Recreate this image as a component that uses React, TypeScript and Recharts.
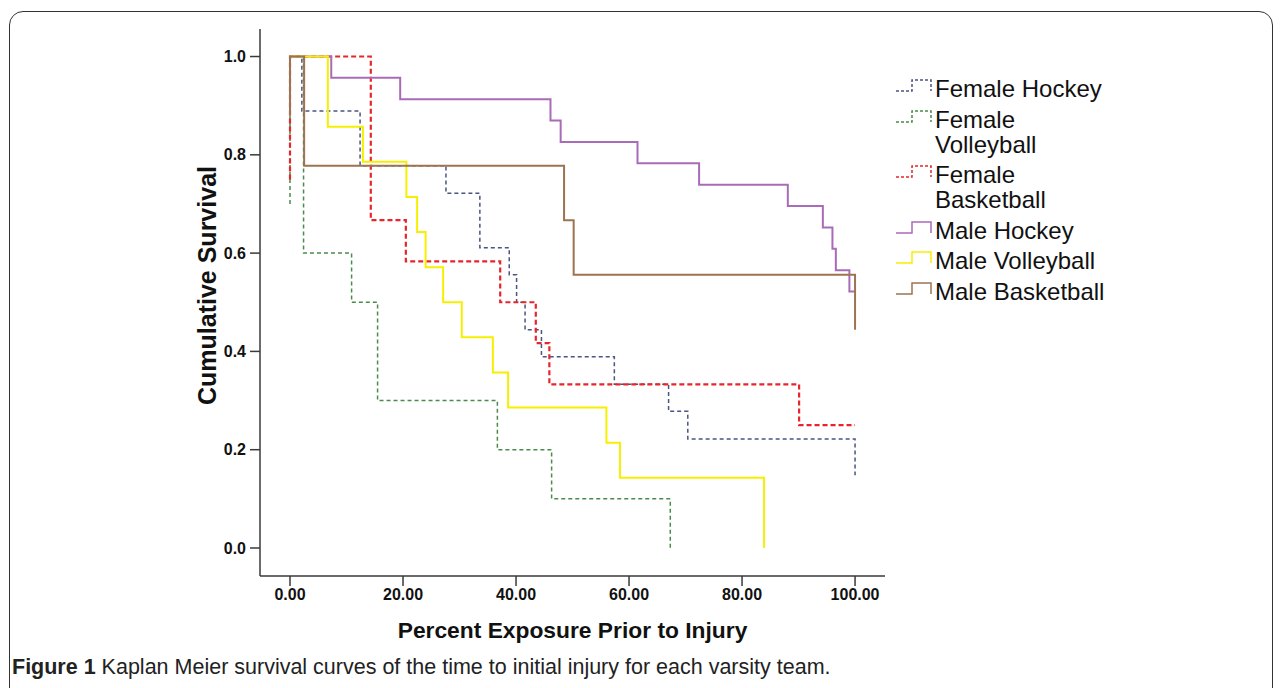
import { Label, Line, LineChart, XAxis, YAxis } from "recharts";

// Kaplan Meier step curves (time = % exposure, s = survival)
const FH_T = [0, 2.1, 12.4, 27.6, 33.6, 38.8, 40.1, 41.6, 44.5, 57.4, 67.0, 70.4, 100];
const FH_S = [1, 0.889, 0.778, 0.722, 0.611, 0.556, 0.5, 0.444, 0.389, 0.333, 0.278, 0.222, 0.148];

const FV_T = [0, 0, 2.4, 10.9, 15.5, 36.7, 46.3, 67.3];
const FV_S = [0.7, 1, 0.6, 0.5, 0.3, 0.2, 0.1, 0];

const FB_T = [0, 0, 14.3, 20.5, 37.2, 43.5, 45.9, 90.1, 100];
const FB_S = [0.75, 1, 0.667, 0.583, 0.5, 0.417, 0.333, 0.25, 0.25];

const MH_T = [0, 7.3, 19.5, 46.1, 47.9, 61.5, 72.4, 88.1, 94.3, 96.0, 96.6, 99.0, 100];
const MH_S = [1, 0.957, 0.913, 0.87, 0.826, 0.783, 0.739, 0.696, 0.652, 0.609, 0.565, 0.522, 0.522];

const MV_T = [0, 6.7, 12.9, 20.6, 22.5, 24.0, 27.1, 30.4, 35.9, 38.6, 56.0, 58.4, 83.9];
const MV_S = [1, 0.857, 0.786, 0.714, 0.643, 0.571, 0.5, 0.429, 0.357, 0.286, 0.214, 0.143, 0];

const MB_T = [0, 0, 2.5, 48.5, 50.2, 100];
const MB_S = [0.88, 1, 0.778, 0.667, 0.556, 0.444];

const X_TICKS = [0, 20, 40, 60, 80, 100];
const Y_TICKS = [0, 0.2, 0.4, 0.6, 0.8, 1.0];
const X_DOMAIN = [-5.31, 105.3];
const Y_DOMAIN = [-0.057, 1.056];

const zip = (t: number[], s: number[]) => t.map((v, i) => ({ t: v, s: s[i] }));

const SERIES = [
  { name: "Female Hockey", lines: ["Female Hockey"], data: zip(FH_T, FH_S), color: "#4a5580", width: 1.5, dash: "4 3" },
  { name: "Female Volleyball", lines: ["Female", "Volleyball"], data: zip(FV_T, FV_S), color: "#4b8b4b", width: 1.5, dash: "4 3" },
  { name: "Female Basketball", lines: ["Female", "Basketball"], data: zip(FB_T, FB_S), color: "#e6262c", width: 2.2, dash: "5 3" },
  { name: "Male Hockey", lines: ["Male Hockey"], data: zip(MH_T, MH_S), color: "#a96bb8", width: 2, dash: undefined },
  { name: "Male Volleyball", lines: ["Male Volleyball"], data: zip(MV_T, MV_S), color: "#f6f000", width: 2, dash: undefined },
  { name: "Male Basketball", lines: ["Male Basketball"], data: zip(MB_T, MB_S), color: "#9c7452", width: 2, dash: undefined },
];

const FRAME = "#3a3a3a";
const FONT = "'Liberation Sans', Arial, sans-serif";
const tickStyle = { fill: "#111", fontSize: 16, fontWeight: 700, fontFamily: FONT };

export default function App() {
  return (
    <div style={{ position: "absolute", left: 0, top: 0, width: 1281, height: 688, background: "#fff", overflow: "hidden", fontFamily: FONT }}>
      {/* figure border */}
      <div style={{ position: "absolute", left: 9, top: 11, width: 1262, height: 700, border: "1.5px solid #333", borderRadius: 14 }} />

      <LineChart width={1281} height={688} margin={{ top: 29, right: 396, bottom: 72, left: 200 }} style={{ position: "absolute", left: 0, top: 0 }}>
        <XAxis
          type="number"
          dataKey="t"
          domain={X_DOMAIN}
          ticks={X_TICKS}
          allowDataOverflow
          tickFormatter={(v) => v.toFixed(2)}
          tick={tickStyle}
          tickSize={10}
          tickMargin={3}
          height={40}
          stroke={FRAME}
          strokeWidth={1.5}
        >
          <Label value="Percent Exposure Prior to Injury" position="bottom" offset={6} style={{ fill: "#111", fontSize: 22.8, fontWeight: 700, fontFamily: FONT }} />
        </XAxis>
        <XAxis xAxisId="top" orientation="top" type="number" domain={X_DOMAIN} height={0} tick={false} tickLine={false} stroke={FRAME} strokeWidth={1.5} />
        <YAxis
          type="number"
          dataKey="s"
          domain={Y_DOMAIN}
          ticks={Y_TICKS}
          allowDataOverflow
          tickFormatter={(v) => v.toFixed(1)}
          tick={tickStyle}
          tickSize={10}
          tickMargin={4}
          width={60}
          stroke={FRAME}
          strokeWidth={1.5}
        >
          <Label
            content={({ viewBox }: any) => {
              const x = viewBox.x + 16;
              const y = viewBox.y + viewBox.height / 2 - 17;
              return (
                <text x={x} y={y} transform={`rotate(-90, ${x}, ${y})`} textAnchor="middle" fill="#111" fontSize={25} fontWeight={700} fontFamily={FONT}>
                  Cumulative Survival
                </text>
              );
            }}
          />
        </YAxis>
        <YAxis yAxisId="right" orientation="right" type="number" domain={Y_DOMAIN} width={0} tick={false} tickLine={false} stroke={FRAME} strokeWidth={1.5} />
        {SERIES.map((s) => (
          <Line
            key={s.name}
            name={s.name}
            data={s.data}
            dataKey="s"
            type="stepAfter"
            stroke={s.color}
            strokeWidth={s.width}
            strokeDasharray={s.dash}
            dot={false}
            activeDot={false}
            isAnimationActive={false}
          />
        ))}
      </LineChart>

      {/* Legend */}
      <div style={{ position: "absolute", left: 895, top: 76, display: "flex", flexDirection: "column", gap: 5.5 }}>
        {SERIES.map((s) => (
          <div key={s.name} style={{ display: "flex", alignItems: "flex-start" }}>
            <svg width={40} height={25} style={{ flex: "none" }}>
              <path d="M1,15 H17 V4 H36 V15" fill="none" stroke={s.color} strokeWidth={1.5} strokeDasharray={s.dash ? "3 2" : undefined} />
            </svg>
            <div style={{ fontSize: 24, lineHeight: "25px", color: "#111" }}>
              {s.lines.map((l) => (
                <div key={l}>{l}</div>
              ))}
            </div>
          </div>
        ))}
      </div>

      {/* Caption */}
      <div style={{ position: "absolute", left: 12, top: 655, fontSize: 21.5, lineHeight: "25px", color: "#222", whiteSpace: "nowrap" }}>
        <b>Figure 1</b> Kaplan Meier survival curves of the time to initial injury for each varsity team.
      </div>
    </div>
  );
}
